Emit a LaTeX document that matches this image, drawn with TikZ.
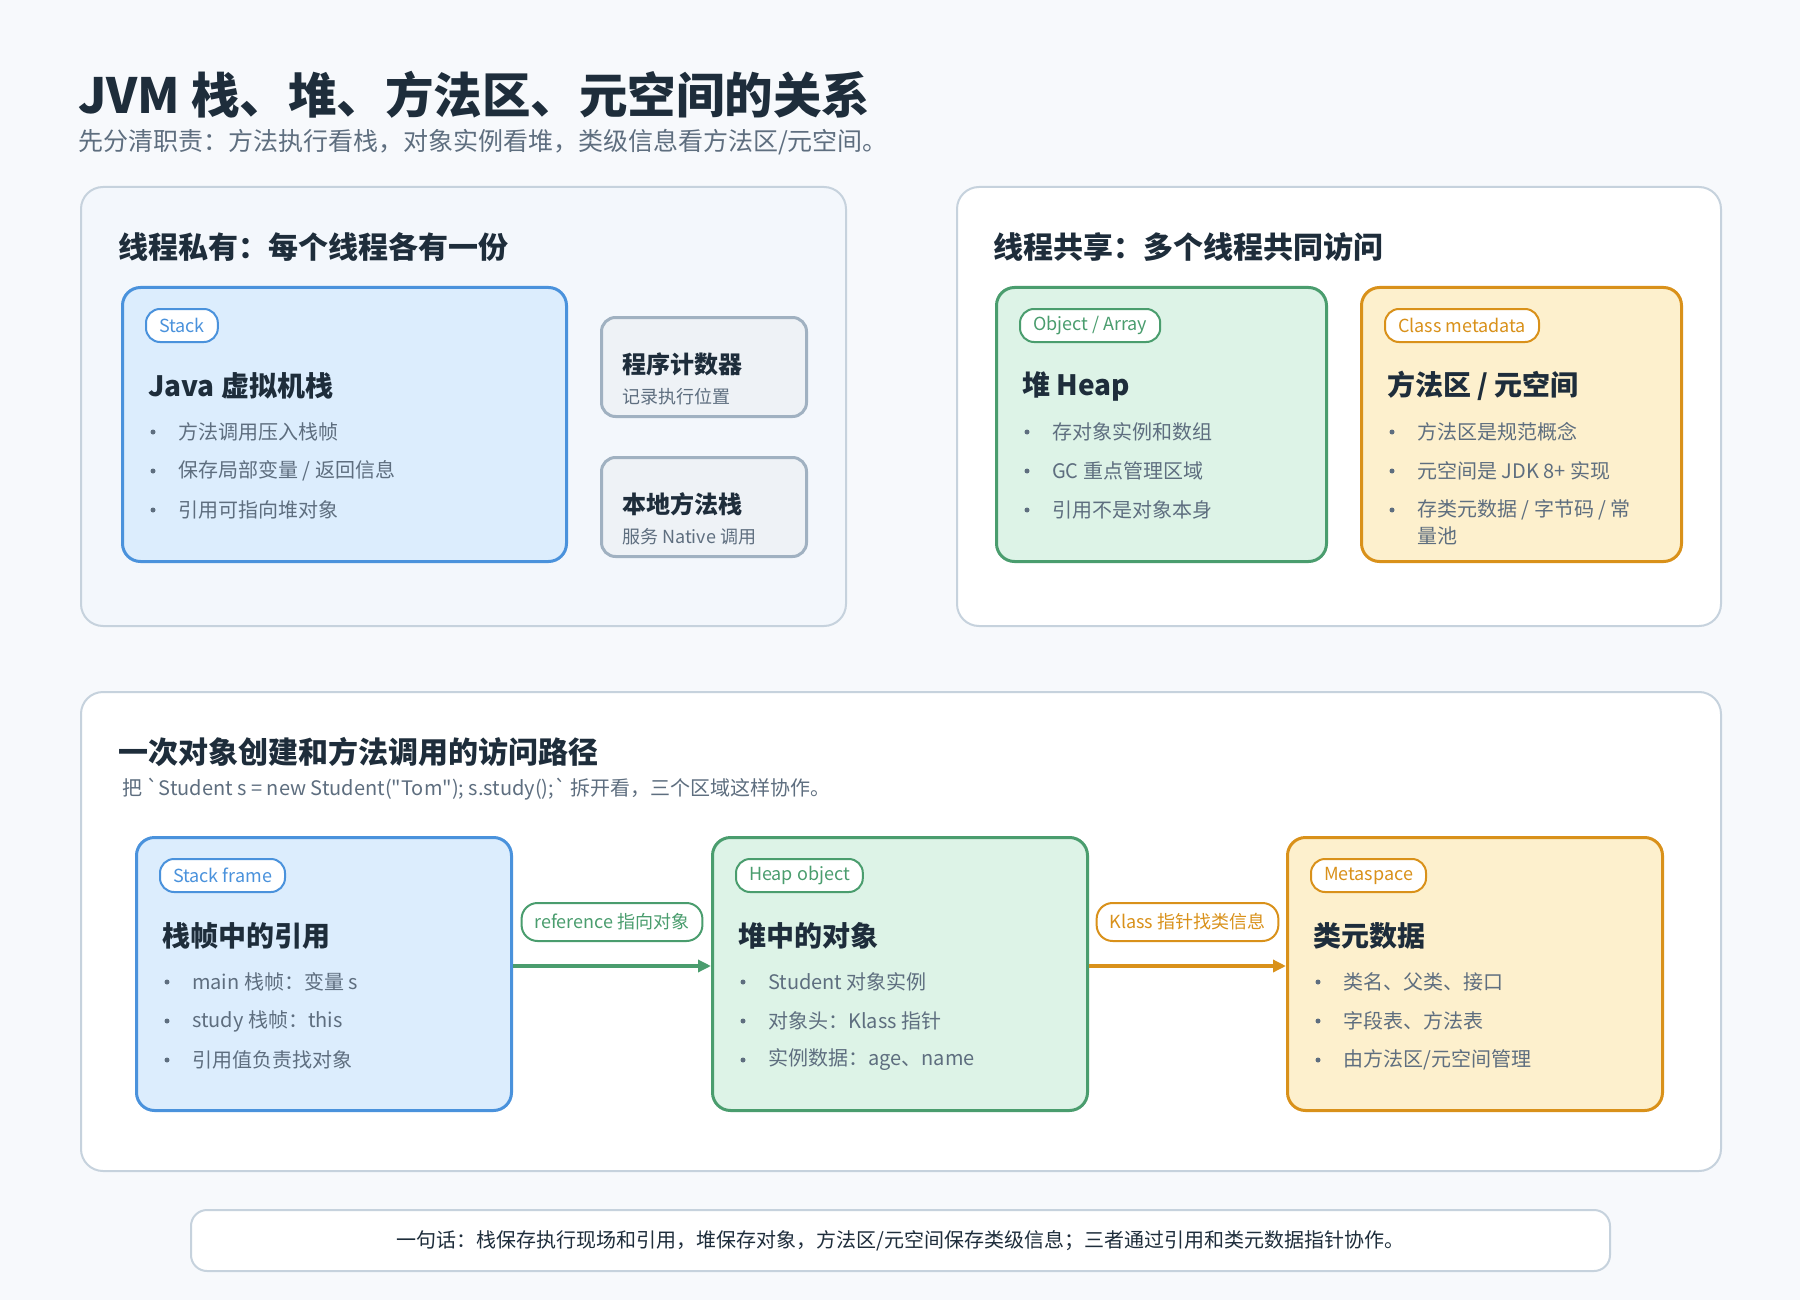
\documentclass[tikz,border=0pt]{standalone}
\usepackage{fontspec}
\setmainfont{Noto Sans CJK SC}
\newfontfamily\plaincjk{Noto Sans CJK SC}
\usetikzlibrary{positioning, arrows.meta, calc}

\definecolor{pagebg}{HTML}{F7F9FC}
\definecolor{panelbg}{HTML}{F3F7FC}
\definecolor{panelline}{HTML}{C6D2DD}
\definecolor{ink}{HTML}{1E2D3B}
\definecolor{muted}{HTML}{5E6E7F}
\definecolor{bluebd}{HTML}{4A92DC}
\definecolor{bluebg}{HTML}{DCEDFD}
\definecolor{greenbd}{HTML}{4A9D6E}
\definecolor{greenbg}{HTML}{DDF3E7}
\definecolor{orangebd}{HTML}{D9911A}
\definecolor{orangebg}{HTML}{FDF0CD}
\definecolor{grayline}{HTML}{A0B1C1}
\definecolor{graybg}{HTML}{EEF2F6}

\newcommand{\fsz}[1]{\fontsize{#1}{#1}\selectfont}
% tag, title and bullet lines inside one card
\newcommand{\cardtext}[5]{%
  \node[tag, draw=#2, text=#2] (#1-tag) at ([shift={(24,22)}]#1.north west) {#3};
  \node[cardtitle] (#1-title) at ([shift={(27,100)}]#1.north west) {#4};
  \foreach \txt [count=\k] in {#5} {
    \fill[muted] ([shift={(32,107+39*\k)}]#1.north west) circle (2.5);
    \node[item] at ([shift={(57,107+39*\k)}]#1.north west) {\txt};
  }}

\begin{document}
\begin{tikzpicture}[
  x=1pt, y=-1pt,
  panel/.style={
    draw=panelline,
    line width=2pt,
    rounded corners=22pt,
    anchor=north west,
    inner sep=0pt,
  },
  card/.style={
    line width=3pt,
    rounded corners=18pt,
    anchor=north west,
    inner sep=0pt,
  },
  minibox/.style={
    draw=grayline,
    fill=graybg,
    line width=3pt,
    rounded corners=14pt,
    anchor=north west,
    inner sep=0pt,
    minimum width=205pt,
    minimum height=99pt,
  },
  tag/.style={
    fill=white,
    line width=2pt,
    rounded corners=14pt,
    minimum height=33pt,
    inner xsep=13pt,
    inner ysep=0pt,
    anchor=north west,
    font=\fsz{18},
  },
  flowtag/.style={
    fill=white,
    line width=2pt,
    rounded corners=16pt,
    minimum height=38pt,
    inner xsep=13pt,
    inner ysep=0pt,
    font=\fsz{18},
  },
  head/.style={anchor=west, inner sep=0pt, text=ink, font=\bfseries\fsz{30}},
  cardtitle/.style={anchor=west, inner sep=0pt, text=ink, font=\bfseries\fsz{28}},
  item/.style={anchor=west, inner sep=0pt, text=muted, font=\fsz{20}},
  flow/.style={line width=4pt, -{Triangle[length=13pt,width=12pt]}},
]
\useasboundingbox (0,0) rectangle (1800,1300);
\fill[pagebg] (0,0) rectangle (1800,1300);

% heading
\node[anchor=west, inner sep=0pt, text=ink, font=\bfseries\fsz{48.5}] (title) at (78,95) {JVM 栈、堆、方法区、元空间的关系};
\node[anchor=west, inner sep=0pt, text=muted, font=\fsz{25}] (subtitle) at (78,142) {先分清职责：方法执行看栈，对象实例看堆，类级信息看方法区/元空间。};

% thread private
\node[panel, fill=panelbg, minimum width=765pt, minimum height=439pt] (private) at (80,186) {};
\node[head] (private-head) at (118,247) {线程私有：每个线程各有一份};
\node[card, draw=bluebd, fill=bluebg, minimum width=444pt, minimum height=274pt] (stk) at (121,286) {};
\cardtext{stk}{bluebd}{Stack}{Java 虚拟机栈}{方法调用压入栈帧, 保存局部变量 / 返回信息, 引用可指向堆对象}
\node[minibox] (pc) at (600,316) {};
\node[anchor=west, inner sep=0pt, text=ink, font=\bfseries\fsz{24}] (pc-title) at ([shift={(22,48)}]pc.north west) {程序计数器};
\node[anchor=west, inner sep=0pt, text=muted, font=\fsz{18}] (pc-sub) at ([shift={(22,81)}]pc.north west) {记录执行位置};
\node[minibox] (native) at (600,456) {};
\node[anchor=west, inner sep=0pt, text=ink, font=\bfseries\fsz{24}] (native-title) at ([shift={(22,48)}]native.north west) {本地方法栈};
\node[anchor=west, inner sep=0pt, text=muted, font=\fsz{18}] (native-sub) at ([shift={(22,81)}]native.north west) {服务 Native 调用};

% thread shared
\node[panel, fill=white, minimum width=764pt, minimum height=439pt] (shared) at (956,186) {};
\node[head] (shared-head) at (993,247) {线程共享：多个线程共同访问};
\node[card, draw=greenbd, fill=greenbg, minimum width=330pt, minimum height=274pt] (heap) at (995,286) {};
\cardtext{heap}{greenbd}{Object / Array}{堆 Heap}{存对象实例和数组, GC 重点管理区域, 引用不是对象本身}
\node[card, draw=orangebd, fill=orangebg, minimum width=320pt, minimum height=274pt] (mth) at (1360,286) {};
\cardtext{mth}{orangebd}{Class metadata}{方法区 / 元空间}{方法区是规范概念, 元空间是 JDK 8+ 实现, 存类元数据 / 字节码 / 常}
\node[item] (mth-wrap) at ([shift={(57,250)}]mth.north west) {量池};

% access path
\node[panel, fill=white, minimum width=1640pt, minimum height=479pt] (path) at (80,691) {};
\node[head] (path-head) at (118,752) {一次对象创建和方法调用的访问路径};
\node[item, text=muted, font=\plaincjk\fsz{20}] (path-sub) at (122,789) {把 `Student s = new Student("Tom"); s.study();` 拆开看，三个区域这样协作。};
\node[card, draw=bluebd, fill=bluebg, minimum width=375pt, minimum height=273pt] (sf) at (135,836) {};
\cardtext{sf}{bluebd}{Stack frame}{栈帧中的引用}{main 栈帧：变量 s, study 栈帧：this, 引用值负责找对象}
\node[card, draw=greenbd, fill=greenbg, minimum width=375pt, minimum height=273pt] (ho) at (711,836) {};
\cardtext{ho}{greenbd}{Heap object}{堆中的对象}{Student 对象实例, 对象头：Klass 指针, 实例数据：age、name}
\node[card, draw=orangebd, fill=orangebg, minimum width=375pt, minimum height=273pt] (meta) at (1286,836) {};
\cardtext{meta}{orangebd}{Metaspace}{类元数据}{类名、父类、接口, 字段表、方法表, 由方法区/元空间管理}

\draw[flow, draw=greenbd, fill=greenbd] ([yshift=8pt]sf.east) -- ([yshift=8pt]ho.west);
\node[flowtag, draw=greenbd, text=greenbd] (ref-tag) at ($(sf.east)!0.5!(ho.west)+(0,-52)$) {reference 指向对象};
\draw[flow, draw=orangebd, fill=orangebd] ([yshift=8pt]ho.east) -- ([yshift=8pt]meta.west);
\node[flowtag, draw=orangebd, text=orangebd] (klass-tag) at ($(ho.east)!0.5!(meta.west)+(0,-52)$) {Klass 指针找类信息};

% summary
\node[draw=panelline, fill=white, line width=2pt, rounded corners=16pt, minimum width=1419pt, minimum height=61pt, inner sep=0pt, text=ink, font=\fsz{20}] (summary) at (900.5,1240.5) {一句话：栈保存执行现场和引用，堆保存对象，方法区/元空间保存类级信息；三者通过引用和类元数据指针协作。};
\end{tikzpicture}
\end{document}
